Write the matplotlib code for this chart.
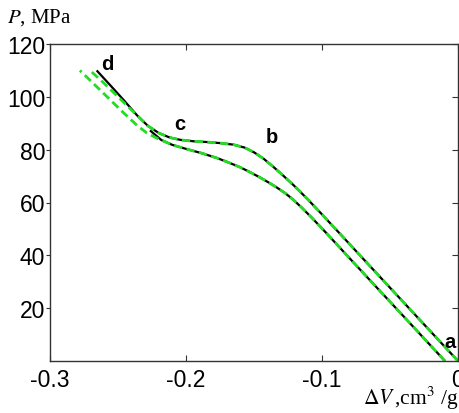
import matplotlib
matplotlib.use("Agg")
import matplotlib.pyplot as plt

# ---- data ----
# upper branch a-b-c-d (black solid)
upper_v = [0.0, -0.02, -0.04, -0.06, -0.08, -0.10, -0.112, -0.121, -0.129, -0.136,
           -0.143, -0.150, -0.157, -0.165, -0.175, -0.185, -0.195, -0.204, -0.212,
           -0.220, -0.228, -0.236, -0.245, -0.255, -0.2657]
upper_P = [0.0, 11.1, 22.2, 33.3, 44.4, 55.5, 62.0, 66.6, 70.4, 73.6,
           76.6, 79.0, 80.8, 81.9, 82.5, 82.9, 83.2, 83.7, 84.6,
           86.3, 89.0, 93.0, 98.3, 104.0, 110.0]

# lower branch (black solid)
lower_v = [-0.0096, -0.04, -0.07, -0.10, -0.108, -0.115, -0.121, -0.127, -0.133,
           -0.139, -0.146, -0.153, -0.160, -0.168, -0.177, -0.188, -0.200, -0.210,
           -0.218, -0.2265]
lower_P = [0.0, 16.9, 33.5, 50.2, 54.5, 58.1, 61.0, 63.5, 65.6,
           67.5, 69.6, 71.5, 73.3, 75.0, 76.8, 78.6, 80.3, 81.8,
           83.6, 87.3]

# green dashed curves (fit)
green_up_v = upper_v[:-3] + [-0.252, -0.261, -0.2706]
green_up_P = upper_P[:-3] + [101.0, 105.5, 110.0]
green_lo_v = lower_v[:-1] + [-0.2216, -0.229, -0.236, -0.246, -0.256, -0.267, -0.278]
green_lo_P = lower_P[:-1] + [84.4, 86.4, 89.2, 94.0, 99.0, 104.5, 110.0]

point_labels = ["a", "b", "c", "d"]
point_v = [-0.0059, -0.1368, -0.2044, -0.258]
point_P = [7.5, 84.9, 89.8, 112.5]

x_ticks = [-0.3, -0.2, -0.1, 0.0]
x_ticklabels = ["-0.3", "-0.2", "-0.1", "0"]
y_ticks = [20, 40, 60, 80, 100, 120]
y_ticklabels = ["20", "40", "60", "80", "100", "120"]

# ---- figure ----
plt.rcParams["mathtext.fontset"] = "stix"
fig = plt.figure(figsize=(4.59, 4.14), dpi=100)
ax = fig.add_axes([50 / 459, 1 - 362 / 414, 408 / 459, 317 / 414])

ax.plot(upper_v, upper_P, color="black", lw=1.6, solid_capstyle="butt")
ax.plot(lower_v, lower_P, color="black", lw=1.6, solid_capstyle="butt")
green = "#22dd22"
ax.plot(green_up_v, green_up_P, color=green, lw=2.0, dashes=(3.0, 1.6))
ax.plot(green_lo_v, green_lo_P, color=green, lw=2.0, dashes=(3.0, 1.6))

for lab, v, p in zip(point_labels, point_v, point_P):
    ax.text(v, p, lab, fontsize=14.5, fontweight="bold", family="Liberation Sans",
            ha="center", va="center")

ax.set_xlim(-0.3, 0.0)
ax.set_ylim(0, 120)
ax.set_xticks(x_ticks)
ax.set_xticklabels(x_ticklabels)
ax.set_yticks(y_ticks)
ax.set_yticklabels(y_ticklabels)

for s in ax.spines.values():
    s.set_color("#333333")
    s.set_linewidth(1.0)

ax.tick_params(axis="x", direction="in", top=True, length=4, width=0.8,
               labelsize=16.5, pad=5, colors="#333333", labelcolor="black")
ax.tick_params(axis="y", direction="out", length=3, width=0.8,
               labelsize=16.5, pad=0.5, colors="#333333", labelcolor="black")
ax.tick_params(axis="y", which="major", right=True)
for lab in ax.get_xticklabels() + ax.get_yticklabels():
    lab.set_family("Liberation Sans")
# right ticks inward
for t in ax.yaxis.get_major_ticks():
    t.tick2line.set_marker(matplotlib.markers.TICKLEFT)
    t.tick2line.set_markersize(4)

fig.text(7 / 459, 1 - 18 / 414, r"$P$, MPa", fontsize=15, family="Liberation Serif",
         ha="left", va="center")
fig.text(458 / 459, 1 - 398 / 414, r"$\Delta V\,$,cm$^3$ /g", fontsize=15.5,
         family="Liberation Serif", ha="right", va="center")

fig.savefig("out.png", dpi=100)
